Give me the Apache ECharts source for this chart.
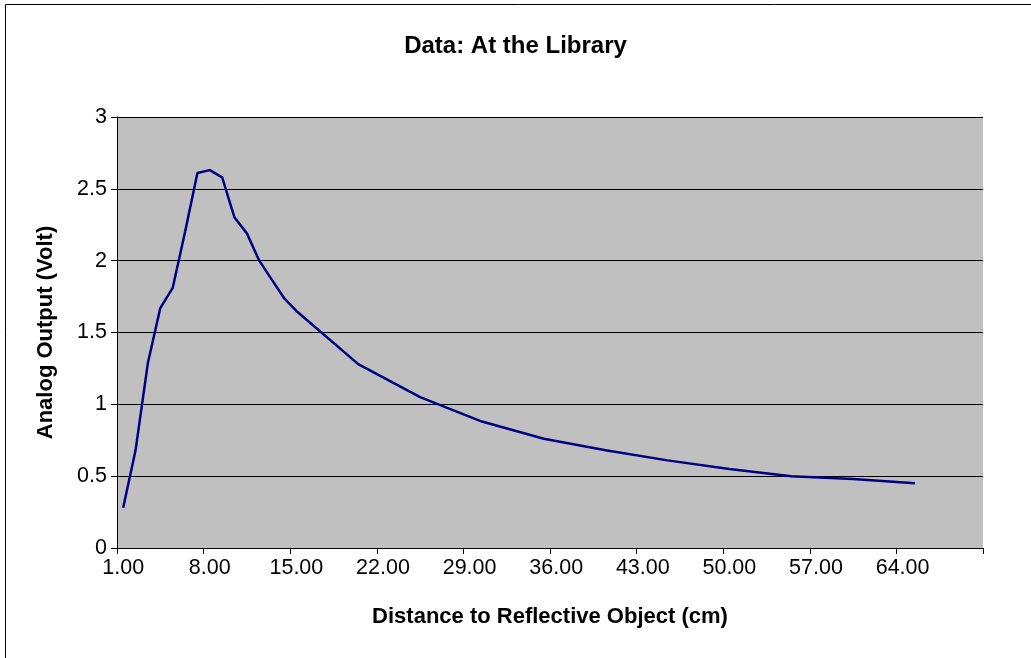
<!DOCTYPE html>
<html>
<head>
<meta charset="utf-8">
<script src="https://cdn.jsdelivr.net/npm/echarts@6/dist/echarts.min.js"></script>
<style>
html,body{margin:0;padding:0;background:#fff;}
#chart{width:1031px;height:658px;}
</style>
</head>
<body>
<div id="chart"></div>
<script>
// Measured distances (cm) and analog output (V)
var distances = [1,2,3,4,5,6,7,8,9,10,11,12,13,14,15,20,25,30,35,40,45,50,55,60,65];
var volts = [0.28,0.68,1.29,1.67,1.81,2.20,2.61,2.63,2.58,2.30,2.19,2.00,1.87,1.74,1.65,1.28,1.05,0.88,0.76,0.68,0.61,0.55,0.50,0.48,0.45];
// Category axis: 1.00 .. 70.00
var categoryCount = 70;
var titleText = 'Data: At the Library';
var xName = 'Distance to Reflective Object (cm)';
var yName = 'Analog Output (Volt)';

var categories = [];
for (var i = 1; i <= categoryCount; i++) categories.push(i.toFixed(2));
var seriesData = categories.map(function(){ return null; });
distances.forEach(function(d, k){ seriesData[d - 1] = volts[k]; });

var chart = echarts.init(document.getElementById('chart'), null, {renderer:'canvas'});
var font = '"Liberation Sans", Arial, sans-serif';
chart.setOption({
  animation: false,
  backgroundColor: '#ffffff',
  graphic: [{
    type: 'rect', silent: true, z: 100,
    shape: {x: 5.5, y: 4.5, width: 1100, height: 700},
    style: {fill: 'none', stroke: '#000', lineWidth: 1}
  }],
  title: {
    text: titleText, left: 'center', top: 29,
    textStyle: {fontFamily: font, fontSize: 24, fontWeight: 'bold', color: '#000'}
  },
  grid: {left: 117, top: 117, right: 48, bottom: 110, show: true, backgroundColor: '#c0c0c0', borderWidth: 0},
  xAxis: {
    type: 'category', data: categories, boundaryGap: true,
    name: xName, nameLocation: 'middle', nameGap: 58,
    nameTextStyle: {fontFamily: font, fontSize: 22, fontWeight: 'bold', color: '#000'},
    axisLine: {lineStyle: {color: '#000', width: 1}},
    axisTick: {show: true, interval: 6, length: 6, inside: false, lineStyle: {color: '#000'}},
    axisLabel: {interval: 6, margin: 9, fontFamily: font, fontSize: 21.5, color: '#000'},
    splitLine: {show: false}
  },
  yAxis: {
    type: 'value', min: 0, max: 3, interval: 0.5,
    name: yName, nameLocation: 'middle', nameGap: 60,
    nameTextStyle: {fontFamily: font, fontSize: 22, fontWeight: 'bold', color: '#000'},
    axisLine: {show: true, lineStyle: {color: '#000', width: 1}},
    axisTick: {show: true, length: 6, lineStyle: {color: '#000'}},
    axisLabel: {margin: 10, fontFamily: font, fontSize: 21.5, color: '#000'},
    splitLine: {show: true, lineStyle: {color: '#000', width: 1}}
  },
  series: [{
    type: 'line', data: seriesData, connectNulls: true,
    showSymbol: false, symbol: 'none',
    lineStyle: {color: '#000080', width: 2.5},
    itemStyle: {color: '#000080'}
  }]
});
</script>
</body>
</html>
